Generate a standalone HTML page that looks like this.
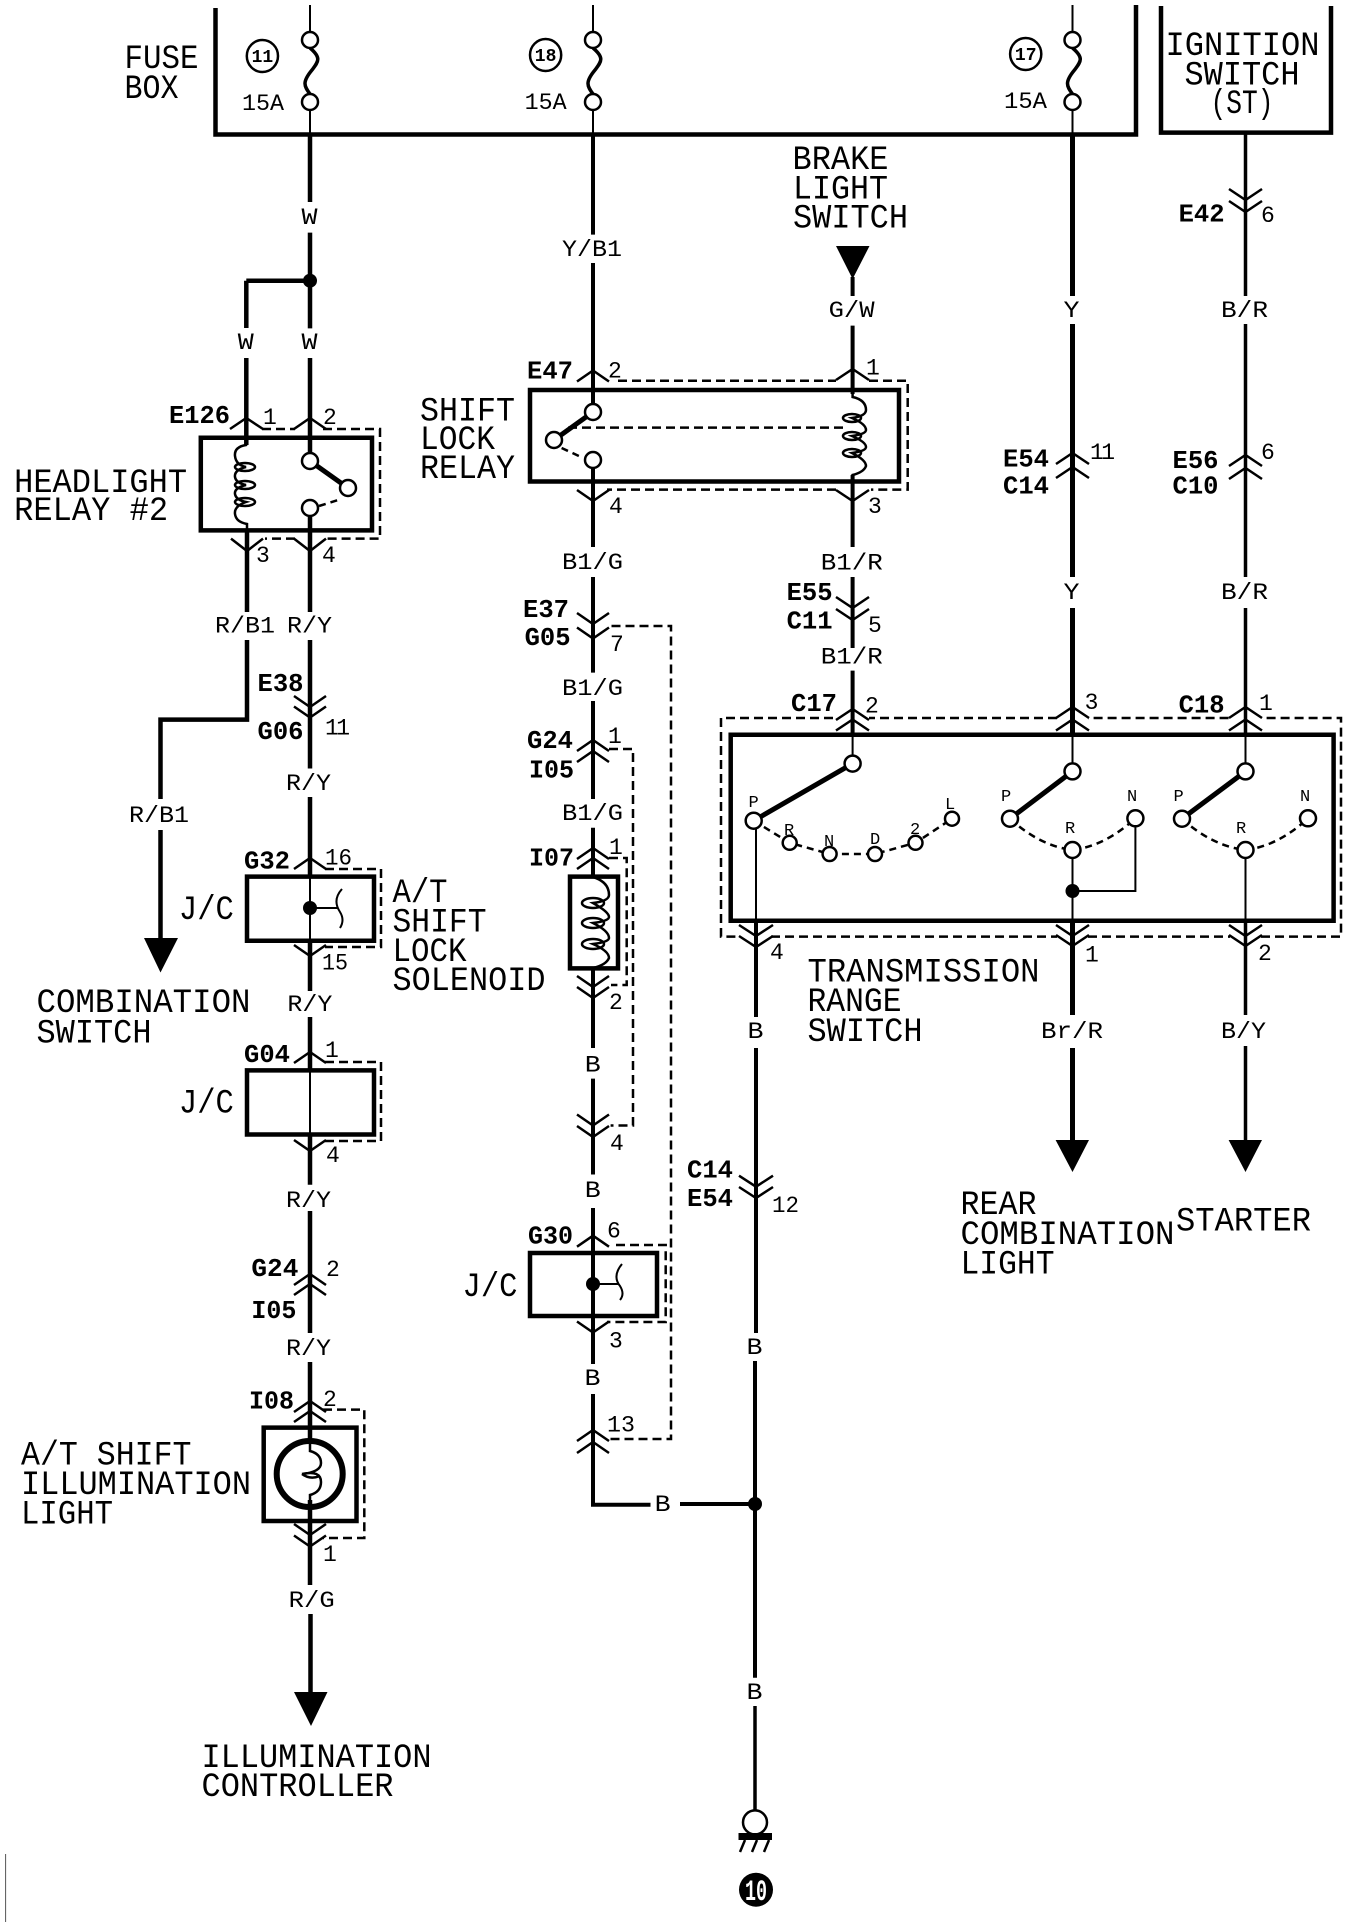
<!DOCTYPE html>
<html><head><meta charset="utf-8"><title>Wiring diagram</title>
<style>
html,body{margin:0;padding:0;background:#fff}
svg{display:block}
text{font-family:"Liberation Mono",monospace;fill:#000}
.b{font-size:34px}
.w{font-size:23px}
.k{font-size:26px;font-weight:bold}
.s{font-size:17px}
.f{font-size:18px;font-weight:bold}
</style></head><body>
<svg xmlns="http://www.w3.org/2000/svg" width="1360" height="1922" viewBox="0 0 1360 1922">
<rect width="1360" height="1922" fill="#fff"/>
<g fill="none" stroke="#000" stroke-linecap="butt" stroke-linejoin="miter">
<!-- housings -->
<path stroke-width="4.5" d="M215.5 8V134.5H1136V5M1161 6V132.6H1331V6"/>
<!-- boxes -->
<path stroke-width="4.5" d="M200.8 437.8H372V530.4H200.8ZM530 390H899V481.5H530ZM247 876.6H374V940.7H247ZM247 1070.4H374V1134.5H247ZM570 876.6H618V968.4H570ZM530 1253H657V1316H530ZM263.7 1427.6H356.5V1521H263.7ZM730.7 734.7H1333.6V920.7H730.7Z"/>
<!-- dashed -->
<path stroke-width="2.5" stroke-dasharray="9 5" d="M262 429H295M323 429H380V538.6H323M295 538.6H265M618 380.7H836M869 380.7H907.7V489.6H871M836 489.6H607M568 427.6H845M611.5 626H671V1439H609M609 749H633V1125.5H610.6M609 858H626.7V985H611M325 869H381V947H325M325 1062H381V1141H325M616 1245H665.7V1322H607M323 1409.6H364.3V1538H323M833 718H721V936.6H738M771 936.6H1057M1088 936.6H1230M1261 936.6H1341V718H1263M1228.6 718H1088M1057 718H869"/>
<path stroke-width="2.5" stroke-dasharray="7 5" d="M319 506L338 500M561.6 448L581 457M753.7 820.7L789.7 842.8L829.6 854H875L915.5 842.8L952 818.7M1010 818.7Q1040 846 1072.5 850Q1105 846 1135.4 818.3M1182 818.7Q1212 846 1245.5 850Q1278 846 1308 818.3"/>
<!-- thick wires -->
<path stroke-width="4.5" d="M310 134V202M310 232.6V328.4M310 358V453M246.3 280.7H310M246.3 280.7V328M246.3 358V445M247 530V612M310 516V612M247 640V719.6H160.5V799M160.5 830V940M310 640V768.5M310 797V876.6M310 940.7V991M310 1017V1070M310 1134.5V1184.7M310 1211V1333M310 1362V1440M310 1500V1585M310.5 1614V1695"/>
<path stroke-width="4" d="M593 134V234.6M593 263V404M593 468V547M593 577V672.6M593 701V799M593 827.7V876.6M593 968V1048M593 1078.6V1174.5M593 1208V1364M593 1394V1504.7H650.5M680 1504H755M852.6 277V296M852.6 325.6V394M852.6 475V547M852.6 577V648M852.6 670.6V734.7M756 920.7V1017M756 1048V1333M755 1361V1677.7"/>
<path stroke-width="5" d="M1072.5 134V296M1072.5 324V577M1072.5 608V734.7M1072.5 920.7V1015M1072.5 1048V1145"/>
<path stroke-width="3.5" d="M1245.5 132V296M1245.5 324V577M1245.5 608V734.7M1245.5 920.7V1015M1245.5 1046V1145M755 1706V1811"/>
<!-- thin wires -->
<path stroke-width="2" d="M310 5V32M310 110V134M593 5V32M593 110V134M1072.5 5V32M1072.5 110V134M852.6 734.7V756M756 828V921M1072.5 734.7V763M1072.5 858V921M1245.5 734.7V763M1245.5 858V921M1072.5 891H1135.4V826M310 876.6V940.7M310 1070.4V1134.5M310 908H338M593 1284H618"/>
<!-- fuses -->
<path stroke-width="3.5" d="M310 48C322 58 318 62 312 70C302 82 304 86 310 94M593 48C605 58 601 62 595 70C585 82 587 86 593 94M1072.5 48C1084.5 58 1080.5 62 1074.5 70C1064.5 82 1066.5 86 1072.5 94"/>
<!-- blades -->
<path stroke-width="5" d="M310 461L348 488M593 412L554 440M852.6 763.6L753.7 820.7M1072.5 771.4L1010 818.7M1245.5 771.4L1182 818.7"/>
<!-- connectors up -->
<path stroke-width="2.5" d="M230 429L246.3 418L263 429M294 429L310 418L326 429M577 381.5L593 370.5L609 381.5M836 380L852.6 369L869 380M294 869L310 858L326 869M294 1063L310 1052L326 1063M294 1285L310 1274L326 1285M294 1295L310 1284L326 1295M577 751L593 740L609 751M577 762L593 751L609 762M577 859L593 848L609 859M577 869L593 858L609 869M577 1246.7L593 1235.7L609 1246.7M294 1412L310 1401L326 1412M294 1422L310 1411L326 1422M577 1441L593 1430L609 1441M577 1453L593 1442L609 1453M836 720L852.6 709L869 720M836 730.5L852.6 719.5L869 730.5M1056 464L1072.5 453L1089 464M1056 478L1072.5 467L1089 478M1229 466L1245.5 455L1262 466M1229 479L1245.5 468L1262 479M1056 718L1072.5 707L1089 718M1056 730.5L1072.5 719.5L1089 730.5M1229 718L1245.5 707L1262 718M1229 730.5L1245.5 719.5L1262 730.5"/>
<!-- connectors down -->
<path stroke-width="2.5" d="M231 538.6L247 551L263 538.6M294 538.6L310 551L326 538.6M577 490L593 501L609 490M836 490L852.6 501L869 490M577 613L593 624L609 613M577 627.5L593 638.5L609 627.5M294 696L310 707L326 696M294 706.5L310 717.5L326 706.5M836 597L852.6 608L869 597M836 609L852.6 620L869 609M1229 189L1245.5 200L1262 189M1229 201L1245.5 212L1262 201M294 945L310 956L326 945M294 1140L310 1151L326 1140M577 976L593 987L609 976M577 987L593 998L609 987M577 1114.5L593 1125.5L609 1114.5M577 1126L593 1137L609 1126M577 1321.5L593 1332.5L609 1321.5M294 1524L310 1535L326 1524M294 1535.5L310 1546.5L326 1535.5M739 925L756 936L773 925M739 936L756 947L773 936M1056 925L1072.5 936L1089 925M1056 935L1072.5 946L1089 935M1229 925L1245.5 936L1262 925M1229 935L1245.5 946L1262 935M739 1175.7L756 1186.7L773 1175.7M739 1187L756 1198L773 1187"/>
<!-- coils -->
<path stroke-width="2.5" d="M246 438V445Q234 447 235 456Q236 465 246 467Q234 470 235 477Q236 483 246 485Q234 488 235 494Q236 500 246 502Q234 506 235 514Q236 522 247 524V530M852.6 394V397Q866 400 866 410Q866 416 852 418Q866 424 866 430Q866 434 852 436Q866 442 866 447Q866 451 852 453Q866 460 866 466Q864 472 852.6 475V481M593 877Q609 882 609 895Q609 901 593 903Q609 912 609 917Q609 921 593 923Q609 931 609 938Q609 942 593 944Q609 951 609 958Q606 965 593 968"/>
<ellipse stroke-width="2.5" cx="245" cy="467" rx="10" ry="4"/>
<ellipse stroke-width="2.5" cx="245" cy="485" rx="10" ry="4"/>
<ellipse stroke-width="2.5" cx="245" cy="502" rx="10" ry="4"/>
<ellipse stroke-width="2.5" cx="852" cy="418" rx="9" ry="4"/>
<ellipse stroke-width="2.5" cx="852" cy="436" rx="9" ry="4"/>
<ellipse stroke-width="2.5" cx="852" cy="453" rx="9" ry="4"/>
<ellipse stroke-width="2.5" cx="593" cy="903" rx="11" ry="5"/>
<ellipse stroke-width="2.5" cx="593" cy="923" rx="11" ry="5"/>
<ellipse stroke-width="2.5" cx="593" cy="944" rx="11" ry="5"/>
<!-- bulbs / squiggles -->
<path stroke-width="2" d="M342 889Q332 900 340 912Q345 920 340 928M622 1264Q612 1276 620 1286Q625 1294 620 1300"/>
<ellipse stroke-width="6" cx="309.7" cy="1474" rx="33" ry="33"/>
<path stroke-width="2.5" d="M310 1440V1451Q321 1454 321 1463Q321 1472 302 1474Q321 1470 321 1482Q321 1492 310 1495V1507M302 1474Q310 1480 320 1476"/>
<!-- small terminal circles -->
<g stroke-width="2.5" fill="#fff">
<circle cx="310" cy="40" r="8"/><circle cx="310" cy="102" r="8"/>
<circle cx="593" cy="40" r="8"/><circle cx="593" cy="102" r="8"/>
<circle cx="1072.5" cy="40" r="8"/><circle cx="1072.5" cy="102" r="8"/>
<circle cx="310" cy="461" r="8"/><circle cx="348" cy="488" r="8"/><circle cx="310" cy="508" r="8"/>
<circle cx="593" cy="412" r="8"/><circle cx="554" cy="440" r="8"/><circle cx="593" cy="460" r="8"/>
<circle cx="852.6" cy="763.6" r="8"/><circle cx="753.7" cy="820.7" r="8"/>
<circle cx="789.7" cy="842.8" r="7"/><circle cx="829.6" cy="854" r="7"/><circle cx="875" cy="854" r="7"/><circle cx="915.5" cy="842.8" r="7"/><circle cx="952" cy="818.7" r="7"/>
<circle cx="1072.5" cy="771.4" r="8"/><circle cx="1010" cy="818.7" r="8"/><circle cx="1072.5" cy="850" r="8"/><circle cx="1135.4" cy="818.3" r="8"/>
<circle cx="1245.5" cy="771.4" r="8"/><circle cx="1182" cy="818.7" r="8"/><circle cx="1245.5" cy="850" r="8"/><circle cx="1308" cy="818.3" r="8"/>
<circle cx="755" cy="1822.4" r="12"/>
</g>
<!-- numbered circles -->
<ellipse stroke-width="2.5" cx="262.4" cy="56" rx="15.6" ry="16"/>
<ellipse stroke-width="2.5" cx="545.6" cy="55" rx="15.6" ry="16"/>
<ellipse stroke-width="2.5" cx="1025.7" cy="54" rx="15.6" ry="16"/>
<!-- ground hatch -->
<path stroke-width="2.5" d="M745 1840L740 1852M757 1840L752 1852M769 1840L764 1852"/>
<!-- left edge mark -->
<path stroke-width="1" stroke="#555" d="M5.6 1854V1922"/>
</g>
<!-- filled -->
<g fill="#000" stroke="none">
<circle cx="310" cy="280.7" r="7"/><circle cx="310" cy="908" r="7"/><circle cx="593" cy="1284" r="7"/><circle cx="1072.5" cy="891" r="7"/><circle cx="755" cy="1504" r="7"/>
<path d="M144 938H178L160.5 972.5ZM294 1692H327.5L311 1726ZM836 246H869.5L852.6 279ZM1055.6 1140H1089L1072.5 1172ZM1228.6 1140H1262L1245.5 1172Z"/>
<rect x="738.5" y="1833" width="33.5" height="7"/>
<circle cx="756" cy="1889.7" r="17"/>
</g>
<!-- big labels -->
<g transform="translate(-1.5,1)">
<text class="b" x="126" y="67" textLength="74" lengthAdjust="spacingAndGlyphs">FUSE</text>
<text class="b" x="126" y="97" textLength="54" lengthAdjust="spacingAndGlyphs">BOX</text>
<text class="b" x="15.6" y="491" textLength="173" lengthAdjust="spacingAndGlyphs">HEADLIGHT</text>
<text class="b" x="15.6" y="519" textLength="154" lengthAdjust="spacingAndGlyphs">RELAY #2</text>
<text class="b" x="421.5" y="419.5" textLength="95" lengthAdjust="spacingAndGlyphs">SHIFT</text>
<text class="b" x="421.5" y="448" textLength="75" lengthAdjust="spacingAndGlyphs">LOCK</text>
<text class="b" x="421.5" y="477" textLength="95" lengthAdjust="spacingAndGlyphs">RELAY</text>
<text class="b" x="794" y="168" textLength="96" lengthAdjust="spacingAndGlyphs">BRAKE</text>
<text class="b" x="794.5" y="197.5" textLength="95" lengthAdjust="spacingAndGlyphs">LIGHT</text>
<text class="b" x="794.5" y="226.5" textLength="115" lengthAdjust="spacingAndGlyphs">SWITCH</text>
<text class="b" x="1167" y="54" textLength="154" lengthAdjust="spacingAndGlyphs">IGNITION</text>
<text class="b" x="1186" y="83.6" textLength="115" lengthAdjust="spacingAndGlyphs">SWITCH</text>
<text class="b" x="1212" y="112" textLength="63" lengthAdjust="spacingAndGlyphs">(ST)</text>
<text class="b" x="38" y="1011" textLength="214" lengthAdjust="spacingAndGlyphs">COMBINATION</text>
<text class="b" x="38" y="1041.5" textLength="115" lengthAdjust="spacingAndGlyphs">SWITCH</text>
<text class="b" x="180.4" y="918" textLength="55" lengthAdjust="spacingAndGlyphs">J/C</text>
<text class="b" x="180.4" y="1111.6" textLength="55" lengthAdjust="spacingAndGlyphs">J/C</text>
<text class="b" x="464" y="1295" textLength="55" lengthAdjust="spacingAndGlyphs">J/C</text>
<text class="b" x="394" y="901" textLength="55" lengthAdjust="spacingAndGlyphs">A/T</text>
<text class="b" x="394" y="930.5" textLength="94" lengthAdjust="spacingAndGlyphs">SHIFT</text>
<text class="b" x="394" y="960" textLength="74" lengthAdjust="spacingAndGlyphs">LOCK</text>
<text class="b" x="394" y="989" textLength="153" lengthAdjust="spacingAndGlyphs">SOLENOID</text>
<text class="b" x="809" y="980.7" textLength="232" lengthAdjust="spacingAndGlyphs">TRANSMISSION</text>
<text class="b" x="809" y="1010" textLength="94" lengthAdjust="spacingAndGlyphs">RANGE</text>
<text class="b" x="809" y="1040" textLength="115" lengthAdjust="spacingAndGlyphs">SWITCH</text>
<text class="b" x="962" y="1213" textLength="76" lengthAdjust="spacingAndGlyphs">REAR</text>
<text class="b" x="962" y="1243" textLength="214" lengthAdjust="spacingAndGlyphs">COMBINATION</text>
<text class="b" x="962" y="1272.4" textLength="94" lengthAdjust="spacingAndGlyphs">LIGHT</text>
<text class="b" x="1177.5" y="1229.6" textLength="135" lengthAdjust="spacingAndGlyphs">STARTER</text>
<text class="b" x="22.5" y="1463.7" textLength="170.5" lengthAdjust="spacingAndGlyphs">A/T SHIFT</text>
<text class="b" x="22.5" y="1493" textLength="230" lengthAdjust="spacingAndGlyphs">ILLUMINATION</text>
<text class="b" x="22.5" y="1522.7" textLength="92" lengthAdjust="spacingAndGlyphs">LIGHT</text>
<text class="b" x="203" y="1766" textLength="230" lengthAdjust="spacingAndGlyphs">ILLUMINATION</text>
<text class="b" x="203" y="1795" textLength="192" lengthAdjust="spacingAndGlyphs">CONTROLLER</text>
</g>
<!-- wire labels -->
<g transform="translate(-1,-1)">
<text class="w" x="243" y="111" textLength="42" lengthAdjust="spacingAndGlyphs">15A</text>
<text class="w" x="525.6" y="110" textLength="42" lengthAdjust="spacingAndGlyphs">15A</text>
<text class="w" x="1005" y="109" textLength="43" lengthAdjust="spacingAndGlyphs">15A</text>
<text class="w" x="302.5" y="225" textLength="16" lengthAdjust="spacingAndGlyphs">W</text>
<text class="w" x="238.8" y="350" textLength="16" lengthAdjust="spacingAndGlyphs">W</text>
<text class="w" x="302.5" y="350" textLength="16" lengthAdjust="spacingAndGlyphs">W</text>
<text class="w" x="563" y="257" textLength="60" lengthAdjust="spacingAndGlyphs">Y/B1</text>
<text class="w" x="216" y="633.6" textLength="60" lengthAdjust="spacingAndGlyphs">R/B1</text>
<text class="w" x="288" y="633.6" textLength="45" lengthAdjust="spacingAndGlyphs">R/Y</text>
<text class="w" x="563" y="570" textLength="61" lengthAdjust="spacingAndGlyphs">B1/G</text>
<text class="w" x="829.6" y="318" textLength="46" lengthAdjust="spacingAndGlyphs">G/W</text>
<text class="w" x="1064.5" y="318" textLength="16" lengthAdjust="spacingAndGlyphs">Y</text>
<text class="w" x="1222" y="318" textLength="47" lengthAdjust="spacingAndGlyphs">B/R</text>
<text class="w" x="821.8" y="570.4" textLength="62" lengthAdjust="spacingAndGlyphs">B1/R</text>
<text class="w" x="1064.5" y="600" textLength="16" lengthAdjust="spacingAndGlyphs">Y</text>
<text class="w" x="1222" y="600" textLength="47" lengthAdjust="spacingAndGlyphs">B/R</text>
<text class="w" x="821.8" y="664.5" textLength="62" lengthAdjust="spacingAndGlyphs">B1/R</text>
<text class="w" x="563" y="696" textLength="61" lengthAdjust="spacingAndGlyphs">B1/G</text>
<text class="w" x="287" y="791" textLength="45" lengthAdjust="spacingAndGlyphs">R/Y</text>
<text class="w" x="130" y="823" textLength="60" lengthAdjust="spacingAndGlyphs">R/B1</text>
<text class="w" x="563" y="821" textLength="61" lengthAdjust="spacingAndGlyphs">B1/G</text>
<text class="w" x="288.4" y="1012" textLength="45" lengthAdjust="spacingAndGlyphs">R/Y</text>
<text class="w" x="585.8" y="1072.5" textLength="16" lengthAdjust="spacingAndGlyphs">B</text>
<text class="w" x="287" y="1208" textLength="45" lengthAdjust="spacingAndGlyphs">R/Y</text>
<text class="w" x="585.8" y="1198" textLength="16" lengthAdjust="spacingAndGlyphs">B</text>
<text class="w" x="748.5" y="1039" textLength="16" lengthAdjust="spacingAndGlyphs">B</text>
<text class="w" x="1042" y="1039" textLength="62" lengthAdjust="spacingAndGlyphs">Br/R</text>
<text class="w" x="1222" y="1039" textLength="45" lengthAdjust="spacingAndGlyphs">B/Y</text>
<text class="w" x="287" y="1356" textLength="45" lengthAdjust="spacingAndGlyphs">R/Y</text>
<text class="w" x="585.5" y="1386" textLength="16" lengthAdjust="spacingAndGlyphs">B</text>
<text class="w" x="289.7" y="1608" textLength="46" lengthAdjust="spacingAndGlyphs">R/G</text>
<text class="w" x="655.7" y="1512" textLength="16" lengthAdjust="spacingAndGlyphs">B</text>
<text class="w" x="747.5" y="1355" textLength="16" lengthAdjust="spacingAndGlyphs">B</text>
<text class="w" x="747.5" y="1700" textLength="16" lengthAdjust="spacingAndGlyphs">B</text>
</g>
<!-- connector ids -->
<g transform="translate(-1,-1)">
<text class="k" x="170" y="424" textLength="61" lengthAdjust="spacingAndGlyphs">E126</text>
<text class="k" x="528" y="379.4" textLength="46" lengthAdjust="spacingAndGlyphs">E47</text>
<text class="k" x="524" y="618" textLength="46" lengthAdjust="spacingAndGlyphs">E37</text>
<text class="k" x="525.6" y="646" textLength="46" lengthAdjust="spacingAndGlyphs">G05</text>
<text class="k" x="787.6" y="601" textLength="46" lengthAdjust="spacingAndGlyphs">E55</text>
<text class="k" x="787.6" y="629.6" textLength="46" lengthAdjust="spacingAndGlyphs">C11</text>
<text class="k" x="1004" y="467.6" textLength="46" lengthAdjust="spacingAndGlyphs">E54</text>
<text class="k" x="1004" y="494.5" textLength="46" lengthAdjust="spacingAndGlyphs">C14</text>
<text class="k" x="1173.5" y="469" textLength="46" lengthAdjust="spacingAndGlyphs">E56</text>
<text class="k" x="1173.5" y="494.5" textLength="46" lengthAdjust="spacingAndGlyphs">C10</text>
<text class="k" x="1179.6" y="222.4" textLength="46" lengthAdjust="spacingAndGlyphs">E42</text>
<text class="k" x="258.5" y="692" textLength="46" lengthAdjust="spacingAndGlyphs">E38</text>
<text class="k" x="258.5" y="740" textLength="46" lengthAdjust="spacingAndGlyphs">G06</text>
<text class="k" x="528" y="749" textLength="46" lengthAdjust="spacingAndGlyphs">G24</text>
<text class="k" x="530" y="778.7" textLength="45" lengthAdjust="spacingAndGlyphs">I05</text>
<text class="k" x="530" y="866.4" textLength="45" lengthAdjust="spacingAndGlyphs">I07</text>
<text class="k" x="245" y="869.3" textLength="46" lengthAdjust="spacingAndGlyphs">G32</text>
<text class="k" x="245" y="1063" textLength="46" lengthAdjust="spacingAndGlyphs">G04</text>
<text class="k" x="529" y="1244.7" textLength="45" lengthAdjust="spacingAndGlyphs">G30</text>
<text class="k" x="252.4" y="1277" textLength="47" lengthAdjust="spacingAndGlyphs">G24</text>
<text class="k" x="792" y="712" textLength="46" lengthAdjust="spacingAndGlyphs">C17</text>
<text class="k" x="1179.6" y="713.4" textLength="46" lengthAdjust="spacingAndGlyphs">C18</text>
<text class="k" x="688" y="1178.6" textLength="46" lengthAdjust="spacingAndGlyphs">C14</text>
<text class="k" x="688" y="1207" textLength="46" lengthAdjust="spacingAndGlyphs">E54</text>
<text class="k" x="252.4" y="1319" textLength="45" lengthAdjust="spacingAndGlyphs">I05</text>
<text class="k" x="250" y="1409.6" textLength="45" lengthAdjust="spacingAndGlyphs">I08</text>
</g>
<!-- pin numbers -->
<text class="w" x="263" y="424">1</text>
<text class="w" x="323" y="424">2</text>
<text class="w" x="256" y="562">3</text>
<text class="w" x="322" y="562">4</text>
<text class="w" x="608" y="377.4">2</text>
<text class="w" x="609" y="513">4</text>
<text class="w" x="866" y="374.5">1</text>
<text class="w" x="868" y="513">3</text>
<text class="w" x="868" y="632">5</text>
<text class="w" x="1090" y="459" textLength="25" lengthAdjust="spacing">11</text>
<text class="w" x="1261" y="459">6</text>
<text class="w" x="1261" y="222">6</text>
<text class="w" x="610" y="651">7</text>
<text class="w" x="325" y="734.7" textLength="25" lengthAdjust="spacing">11</text>
<text class="w" x="608" y="743">1</text>
<text class="w" x="325" y="864.4" textLength="27" lengthAdjust="spacingAndGlyphs">16</text>
<text class="w" x="609" y="854">1</text>
<text class="w" x="322" y="969.7" textLength="26" lengthAdjust="spacingAndGlyphs">15</text>
<text class="w" x="609" y="1009">2</text>
<text class="w" x="325" y="1057">1</text>
<text class="w" x="610" y="1150">4</text>
<text class="w" x="326" y="1162">4</text>
<text class="w" x="607" y="1237.7">6</text>
<text class="w" x="326" y="1276">2</text>
<text class="w" x="865" y="712.6">2</text>
<text class="w" x="1084.6" y="709">3</text>
<text class="w" x="1259" y="710">1</text>
<text class="w" x="770" y="959">4</text>
<text class="w" x="1085" y="961.5">1</text>
<text class="w" x="1258" y="960">2</text>
<text class="w" x="772" y="1212" textLength="27" lengthAdjust="spacingAndGlyphs">12</text>
<text class="w" x="609" y="1347.6">3</text>
<text class="w" x="607" y="1431.7" textLength="28" lengthAdjust="spacingAndGlyphs">13</text>
<text class="w" x="323" y="1406">2</text>
<text class="w" x="323" y="1561">1</text>
<!-- switch position letters -->
<text class="s" x="748.5" y="807">P</text>
<text class="s" x="784" y="835">R</text>
<text class="s" x="824" y="846">N</text>
<text class="s" x="870" y="844">D</text>
<text class="s" x="910" y="834">2</text>
<text class="s" x="945" y="809">L</text>
<text class="s" x="1001" y="801">P</text>
<text class="s" x="1065" y="833">R</text>
<text class="s" x="1127" y="801">N</text>
<text class="s" x="1173.5" y="801">P</text>
<text class="s" x="1236" y="833">R</text>
<text class="s" x="1300" y="801">N</text>
<!-- fuse numbers -->
<text class="f" x="262.4" y="62" text-anchor="middle">11</text>
<text class="f" x="545.6" y="61" text-anchor="middle">18</text>
<text class="f" x="1025.7" y="60" text-anchor="middle">17</text>
<text x="745" y="1900" style="font-size:30px;font-weight:bold;fill:#fff" textLength="22" lengthAdjust="spacingAndGlyphs">10</text>
</svg>
</body></html>
